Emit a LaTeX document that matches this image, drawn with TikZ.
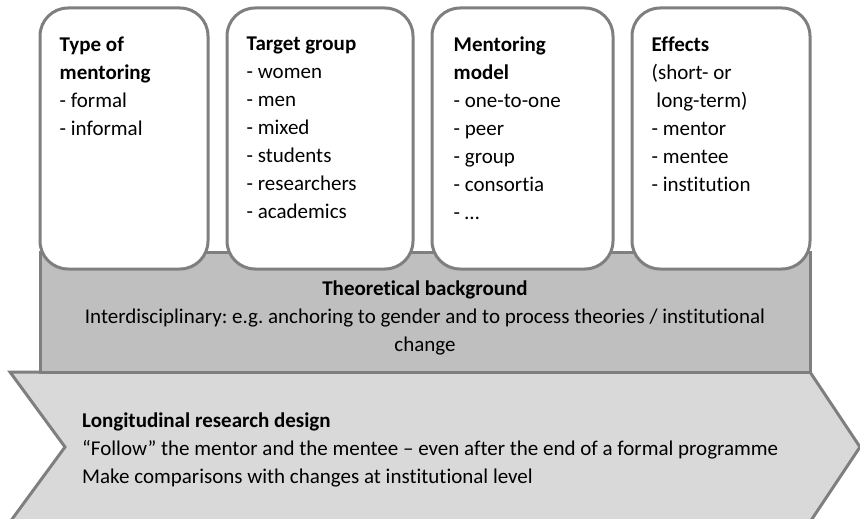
\documentclass[tikz,border=0pt]{standalone}
\usepackage{fontspec}
\setmainfont{Carlito}[Ligatures=NoCommon]
\frenchspacing
\usetikzlibrary{positioning}
\definecolor{edgegray}{HTML}{7F7F7F}
\definecolor{theorygray}{HTML}{BFBFBF}
\definecolor{designgray}{HTML}{D9D9D9}
\tikzset{
    basic/.style   = {draw=edgegray, line width=3pt},
    topic box/.style = {basic, fill=white, rectangle, rounded corners=28pt, minimum height=261pt},
    theory box/.style = {basic, fill=theorygray, rectangle, minimum width=770pt, minimum height=120pt},
    txt/.style     = {inner sep=0pt, font=\fontsize{21}{28}\selectfont},
    list txt/.style = {txt, align=left},
    mid txt/.style = {txt, align=center}
}
\begin{document}
\begin{tikzpicture}[x=1pt,y=-1pt]
	\useasboundingbox (0,0) rectangle (860,519);
	% longitudinal design chevron
	\coordinate (chevtl) at (10,372);
	\filldraw[basic, fill=designgray, line join=miter]
		(chevtl) -- (810,372) -- (860,447) -- (810,522) -- (10,522) -- (65,447) -- cycle;
	\node[list txt, below right=41pt and 72pt of chevtl] (design) {\textbf{Longitudinal research design}\\
		“Follow” the mentor and the mentee – even after the end of a formal programme\\
		Make comparisons with changes at institutional level};
	% theoretical background
	\node[theory box] (theory) at (425,312) {};
	\node[mid txt, below=30pt of theory.north] (theorytxt) {\textbf{Theoretical background}\\
		Interdisciplinary: e.g. anchoring to gender and to process theories / institutional\\
		change};
	% four topic boxes
	\begin{scope}[every node/.append style={topic box}]
		\node[minimum width=168pt] (type)    at (124,138.5) {};
		\node[minimum width=186pt] (target)  at (320,138.5) {};
		\node[minimum width=181pt] (model)   at (522.5,138.5) {};
		\node[minimum width=178pt] (effects) at (721,138.5) {};
	\end{scope}
	\node[list txt, below right=30pt and 21pt of type.north west] (typetxt)
		{\textbf{Type of}\\\textbf{mentoring}\\- formal\\- informal};
	\node[list txt, below right=30pt and 21pt of target.north west] (targettxt)
		{\textbf{Target group}\\- women\\- men\\- mixed\\- students\\- researchers\\- academics};
	\node[list txt, below right=30pt and 23pt of model.north west] (modeltxt)
		{\textbf{Mentoring}\\\textbf{model}\\- one-to-one\\- peer\\- group\\- consortia\\- …};
	\node[list txt, below right=30pt and 21pt of effects.north west] (effectstxt)
		{\textbf{Effects}\\(short- or\\\ long-term)\\- mentor\\- mentee\\- institution};
\end{tikzpicture}
\end{document}
